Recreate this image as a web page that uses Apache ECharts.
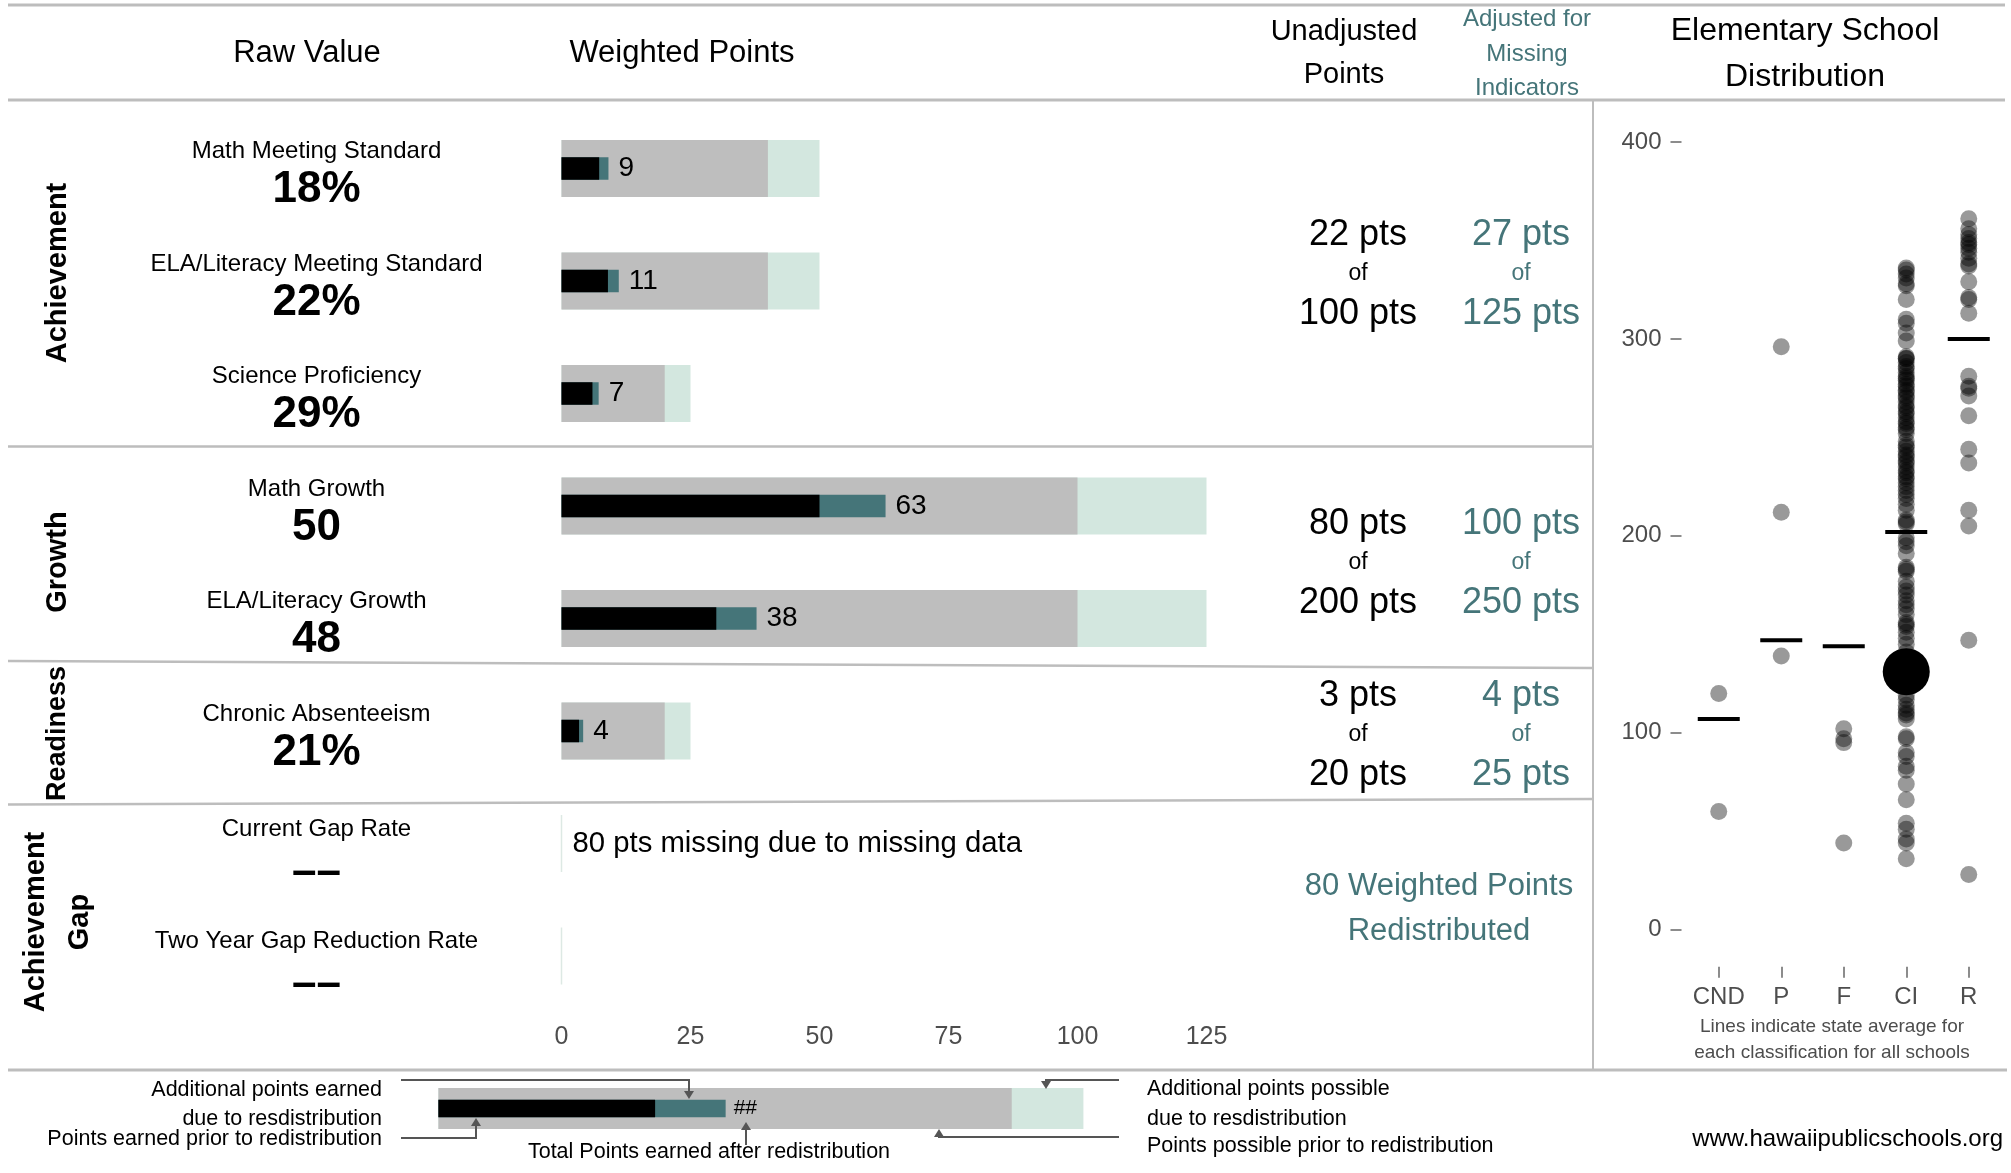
<!DOCTYPE html>
<html><head><meta charset="utf-8">
<script src="https://cdn.jsdelivr.net/npm/echarts@6/dist/echarts.min.js"></script>
<style>html,body{margin:0;padding:0;background:#fff}#c{width:2011px;height:1173px}</style>
</head><body><div id="c"></div>
<script>
// ---------- data ----------
const categories = ['Math Meeting Standard', 'ELA/Literacy Meeting Standard', 'Science Proficiency',
  'Math Growth', 'ELA/Literacy Growth', 'Chronic Absenteeism', 'Current Gap Rate', 'Two Year Gap Reduction Rate'];
const rawValues = ['18%', '22%', '29%', '50', '48', '21%', '––', '––'];
const pointsPossible = [40, 40, 20, 100, 100, 20, 0, 0];
const pointsPossibleAdjusted = [50, 50, 25, 125, 125, 25, 0, 0];
const pointsEarned = [7.3, 9.0, 6.0, 50, 30, 3.4, null, null];
const pointsEarnedAdjusted = [9.1, 11.1, 7.2, 62.8, 37.8, 4.2, null, null];
const missingNote = '80 pts missing due to missing data';
const missingRow = 6;

const sectionNames = ['Achievement', 'Growth', 'Readiness', 'Achievement\nGap'];
const unadjustedEarned = [22, 80, 3];
const unadjustedPossible = [100, 200, 20];
const adjustedEarned = [27, 100, 4];
const adjustedPossible = [125, 250, 25];
const redistributedPoints = 80;

const classifications = ['CND', 'P', 'F', 'CI', 'R'];
const cndScores = [120, 60];
const pScores = [296, 212, 139];
const fScores = [102, 97, 95, 44];
const ciScores = [336, 335, 333, 331, 328, 327, 320, 310, 308, 303, 299, 291, 290, 290, 288, 286, 285, 283, 281,
  280, 279, 277, 276, 274, 273, 271, 270, 268, 266, 265, 263, 262, 260, 258, 257, 255, 254, 252, 248, 246, 245,
  243, 241, 240, 238, 237, 235, 233, 232, 230, 229, 227, 225, 223, 221, 219, 216, 213, 208, 207, 206, 199, 197,
  195, 191, 184, 183, 182, 177, 174, 172, 170, 167, 165, 163, 160, 156, 155, 154, 151, 148, 145, 141, 136, 129,
  124, 119, 117, 114, 112, 110, 109, 107, 98, 97, 90, 88, 83, 81, 74, 66, 54, 51, 46, 44, 36];
const rScores = [361, 356, 353, 351, 349, 348, 346, 344, 341, 338, 337, 329, 321, 320, 313, 281, 276, 275, 271,
  261, 244, 237, 213, 205, 147, 28];
const stateAverages = [107, 147, 144, 202, 300];
const schoolScore = 131;

// schematic legend bar
const legendPossible = [100];
const legendPossibleAdjusted = [112.5];
const legendEarned = [37.8];
const legendEarnedAdjusted = [50.1];

// ---------- styling ----------
const FF = '"Liberation Sans", Arial, Helvetica, sans-serif';
const TEAL = '#457579';
const LIGHT = '#d3e7df';
const GRAY = '#bebebe';
const RULE = '#bdbdbd';

const chart = echarts.init(document.getElementById('c'), null, {renderer: 'canvas'});

const scoreGroups = [cndScores, pScores, fScores, ciScores, rScores];
const scatterData = [];
scoreGroups.forEach((arr, i) => arr.forEach(v => scatterData.push([classifications[i], v])));

function txt(x, y, text, size, opt) {
  opt = opt || {};
  return {
    type: 'text', x: x, y: y, z: 100, rotation: opt.rotation || 0, silent: true,
    style: {
      text: text, fill: opt.color || '#000', fontSize: size, fontFamily: FF,
      fontWeight: opt.weight || 'normal', align: opt.align || 'center',
      verticalAlign: 'middle', lineHeight: opt.lineHeight || size * 1.2
    }
  };
}
function rule(x1, y1, x2, y2, w, c) {
  return {type: 'line', z: 50, silent: true, shape: {x1, y1, x2, y2}, style: {stroke: c || RULE, lineWidth: w || 2}};
}
function poly(points) {
  return {type: 'polyline', z: 60, silent: true, shape: {points}, style: {stroke: '#555', lineWidth: 2, fill: null}};
}
function arrowHead(x, y, dir) {
  const s = 5, h = 8;
  const pts = dir === 'down' ? [[x - s, y - h], [x + s, y - h], [x, y]] : [[x - s, y + h], [x + s, y + h], [x, y]];
  return {type: 'polygon', z: 61, silent: true, shape: {points: pts}, style: {fill: '#555'}};
}

const graphics = [];
// rules
graphics.push(rule(8, 5, 2005, 5, 3));
graphics.push(rule(8, 100, 2005, 100, 3));
graphics.push(rule(8, 446.5, 1593, 446.5, 2.5));
graphics.push(rule(8, 661, 1593, 668, 2.5));
graphics.push(rule(8, 804.5, 1593, 799, 2.5));
graphics.push(rule(8, 1070, 2007, 1070, 3));
graphics.push(rule(1593, 100, 1593, 1070, 2));

// headers
graphics.push(txt(307, 53, 'Raw Value', 31));
graphics.push(txt(682, 53, 'Weighted Points', 31));
graphics.push(txt(1344, 32, 'Unadjusted', 29));
graphics.push(txt(1344, 75, 'Points', 29));
graphics.push(txt(1527, 19, 'Adjusted for', 24, {color: TEAL}));
graphics.push(txt(1527, 54, 'Missing', 24, {color: TEAL}));
graphics.push(txt(1527, 88, 'Indicators', 24, {color: TEAL}));
graphics.push(txt(1805, 31, 'Elementary School', 32));
graphics.push(txt(1805, 77, 'Distribution', 32));

// section labels
const secPos = [[57.5, 273, 29], [58, 562, 29], [58, 733.5, 27], [58, 922, 29]];
sectionNames.forEach((n, i) => {
  graphics.push(txt(secPos[i][0], secPos[i][1], n, secPos[i][2], {weight: 'bold', rotation: Math.PI / 2, lineHeight: 44}));
});

// points columns
const ofY = [274, 562.7, 735];
ofY.forEach((y, i) => {
  graphics.push(txt(1358, y - 39, unadjustedEarned[i] + ' pts', 36));
  graphics.push(txt(1358, y, 'of', 23));
  graphics.push(txt(1358, y + 40, unadjustedPossible[i] + ' pts', 36));
  graphics.push(txt(1521, y - 39, adjustedEarned[i] + ' pts', 36, {color: TEAL}));
  graphics.push(txt(1521, y, 'of', 23, {color: TEAL}));
  graphics.push(txt(1521, y + 40, adjustedPossible[i] + ' pts', 36, {color: TEAL}));
});
graphics.push(txt(1439, 886, redistributedPoints + ' Weighted Points', 31, {color: TEAL}));
graphics.push(txt(1439, 931, 'Redistributed', 31, {color: TEAL}));

// scatter caption
graphics.push(txt(1832, 1027, 'Lines indicate state average for', 19, {color: '#4d4d4d'}));
graphics.push(txt(1832, 1053, 'each classification for all schools', 19, {color: '#4d4d4d'}));

// legend annotations
graphics.push(txt(382, 1090, 'Additional points earned', 21.5, {align: 'right'}));
graphics.push(txt(382, 1119, 'due to resdistribution', 21.5, {align: 'right'}));
graphics.push(txt(382, 1139, 'Points earned prior to redistribution', 21.5, {align: 'right'}));
graphics.push(txt(709, 1152, 'Total Points earned after redistribution', 21.5));
graphics.push(txt(1147, 1089, 'Additional points possible', 21.5, {align: 'left'}));
graphics.push(txt(1147, 1119, 'due to resdistribution', 21.5, {align: 'left'}));
graphics.push(txt(1147, 1146, 'Points possible prior to redistribution', 21.5, {align: 'left'}));
graphics.push(txt(2003, 1139, 'www.hawaiipublicschools.org', 24, {align: 'right'}));

graphics.push(poly([[401, 1080], [689, 1080], [689, 1096]])); graphics.push(arrowHead(689, 1099, 'down'));
graphics.push(poly([[401, 1138], [476, 1138], [476, 1122]])); graphics.push(arrowHead(476, 1118, 'up'));
graphics.push(poly([[746, 1145], [746, 1126]])); graphics.push(arrowHead(746, 1122, 'up'));
graphics.push(poly([[1119, 1080], [1046, 1080], [1046, 1086]])); graphics.push(arrowHead(1046, 1089, 'down'));
graphics.push(poly([[1119, 1137], [939, 1137], [939, 1133]])); graphics.push(arrowHead(939, 1129, 'up'));

const rowLabelRich = {
  n: {fontSize: 24, lineHeight: 43, color: '#000', fontFamily: FF},
  v: {fontSize: 44, lineHeight: 34, color: '#000', fontWeight: 'bold', fontFamily: FF},
  m: {fontSize: 24, lineHeight: 58, color: '#000', fontFamily: FF},
  d: {fontSize: 44, lineHeight: 29, color: '#000', fontWeight: 'bold', fontFamily: FF}
};

const scatterBox = {left: 1687.5, width: 312.5};

const option = {
  backgroundColor: '#fff',
  animation: false,
  grid: [
    {left: 561.5, top: 112.25, width: 645, height: 900},
    {left: scatterBox.left, top: 142, width: scatterBox.width, height: 787.7},
    {left: 438.4, top: 1088, width: 645, height: 41},
    {left: scatterBox.left, top: 900, width: scatterBox.width, height: 66.7}
  ],
  xAxis: [
    {gridIndex: 0, type: 'value', min: 0, max: 125, interval: 25,
      axisLine: {show: false}, axisTick: {show: false}, splitLine: {show: false},
      axisLabel: {fontSize: 25, color: '#4d4d4d', margin: 12, fontFamily: FF}},
    {gridIndex: 1, type: 'category', data: classifications, boundaryGap: true, show: false},
    {gridIndex: 2, type: 'value', min: 0, max: 112.5, show: false},
    {gridIndex: 3, type: 'category', data: classifications, boundaryGap: true,
      axisLine: {show: false},
      axisTick: {show: true, alignWithLabel: true, length: 11, lineStyle: {color: '#8c8c8c', width: 2}},
      axisLabel: {fontSize: 24, color: '#4d4d4d', margin: 19, fontFamily: FF, interval: 0}}
  ],
  yAxis: [
    {gridIndex: 0, type: 'category', data: categories, inverse: true,
      axisLine: {show: false}, axisTick: {show: false}, splitLine: {show: false},
      axisLabel: {interval: 0, align: 'center', margin: 245, rich: rowLabelRich,
        formatter: (v, i) => rawValues[i] === '––'
          ? '{m|' + v + '}\n{d|' + rawValues[i] + '}'
          : '{n|' + v + '}\n{v|' + rawValues[i] + '}'}},
    {gridIndex: 0, type: 'category', data: categories, inverse: true, show: false},
    {gridIndex: 1, type: 'value', min: 0, max: 400, interval: 100, offset: 6,
      axisLine: {show: false}, splitLine: {show: false},
      axisTick: {show: true, length: 11, lineStyle: {color: '#8c8c8c', width: 2}},
      axisLabel: {fontSize: 24, color: '#4d4d4d', margin: 20, fontFamily: FF}},
    {gridIndex: 2, type: 'category', data: ['legend'], show: false},
    {gridIndex: 2, type: 'category', data: ['legend'], show: false},
    {gridIndex: 3, type: 'value', show: false}
  ],
  series: [
    {type: 'bar', name: 'Adjusted possible', xAxisIndex: 0, yAxisIndex: 0, barWidth: 57, barGap: '-100%', silent: true,
      itemStyle: {color: LIGHT},
      data: pointsPossibleAdjusted.map(v => v > 0 ? v : {value: v, itemStyle: {borderColor: '#dde9e4', borderWidth: 1.5}})},
    {type: 'bar', name: 'Possible', xAxisIndex: 0, yAxisIndex: 0, barWidth: 57, barGap: '-100%', silent: true,
      itemStyle: {color: GRAY},
      data: pointsPossible.map((v, i) => i === missingRow ? {value: v, label: {show: true, position: 'right', distance: 11,
        formatter: missingNote, fontSize: 29.3, color: '#000', fontFamily: FF}} : v)},
    {type: 'bar', name: 'Adjusted earned', xAxisIndex: 0, yAxisIndex: 1, barWidth: 22.5, barGap: '-100%', silent: true,
      itemStyle: {color: TEAL},
      label: {show: true, position: 'right', distance: 10, fontSize: 28, color: '#000', fontFamily: FF,
        formatter: p => String(Math.round(p.value))},
      data: pointsEarnedAdjusted},
    {type: 'bar', name: 'Earned', xAxisIndex: 0, yAxisIndex: 1, barWidth: 22.5, barGap: '-100%', silent: true,
      itemStyle: {color: '#000'}, data: pointsEarned},

    {type: 'scatter', xAxisIndex: 1, yAxisIndex: 2, symbolSize: 17, silent: true,
      itemStyle: {color: 'rgba(0,0,0,0.4)', opacity: 1}, data: scatterData},
    {type: 'scatter', xAxisIndex: 1, yAxisIndex: 2, symbol: 'rect', symbolSize: [42, 4], z: 3, silent: true,
      itemStyle: {color: '#000', opacity: 1}, data: stateAverages.map((v, i) => [classifications[i], v])},
    {type: 'scatter', xAxisIndex: 1, yAxisIndex: 2, symbolSize: 47, z: 4, silent: true,
      itemStyle: {color: '#000', opacity: 1}, data: [['CI', schoolScore]]},

    {type: 'bar', xAxisIndex: 2, yAxisIndex: 3, barWidth: 41, barGap: '-100%', silent: true,
      itemStyle: {color: LIGHT}, data: legendPossibleAdjusted},
    {type: 'bar', xAxisIndex: 2, yAxisIndex: 3, barWidth: 41, barGap: '-100%', silent: true,
      itemStyle: {color: GRAY}, data: legendPossible},
    {type: 'bar', xAxisIndex: 2, yAxisIndex: 4, barWidth: 17.7, barGap: '-100%', silent: true,
      itemStyle: {color: TEAL}, data: legendEarnedAdjusted,
      label: {show: true, position: 'right', distance: 8, formatter: '##', fontSize: 21, color: '#000', fontFamily: FF}},
    {type: 'bar', xAxisIndex: 2, yAxisIndex: 4, barWidth: 17.7, barGap: '-100%', silent: true,
      itemStyle: {color: '#000'}, data: legendEarned}
  ],
  graphic: graphics
};
chart.setOption(option);
</script>
</body></html>
